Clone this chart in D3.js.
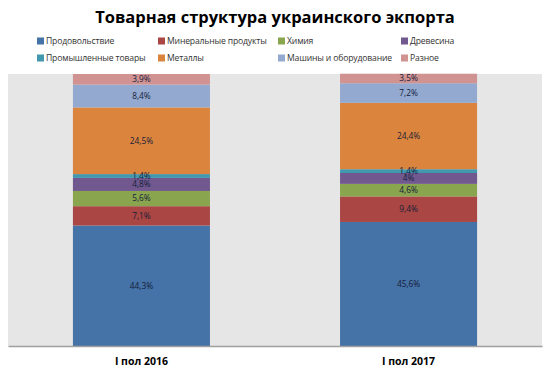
<!DOCTYPE html>
<html>
<head>
<meta charset="utf-8">
<script src="https://cdn.jsdelivr.net/npm/d3@7"></script>
<style>
  body { margin: 0; background: #fff; }
  svg { display: block; font-family: "Open Sans", "Noto Sans", sans-serif; }
</style>
</head>
<body>
<svg id="chart" width="550" height="370"></svg>
<script>
const periods = ["I пол 2016", "I пол 2017"];
const groups = [
  "Продовольствие", "Минеральные продукты", "Химия", "Древесина",
  "Промышленные товары", "Металлы", "Машины и оборудование", "Разное"
];
const share2016 = [44.3, 7.1, 5.6, 4.8, 1.4, 24.5, 8.4, 3.9];
const share2017 = [45.6, 9.4, 4.6, 4, 1.4, 24.4, 7.2, 3.5];
const labels2016 = ["44,3%", "7,1%", "5,6%", "4,8%", "1,4%", "24,5%", "8,4%", "3,9%"];
const labels2017 = ["45,6%", "9,4%", "4,6%", "4%", "1,4%", "24,4%", "7,2%", "3,5%"];
const colors = ["#4572a7", "#aa4643", "#89a54e", "#71588f", "#4198af", "#db843d", "#93a9cf", "#d19392"];

const svg = d3.select("#chart");
const plot = { left: 8, right: 542, top: 74, bottom: 346 };

const rows = periods.map((p, i) => {
  const row = { period: p };
  const vals = i === 0 ? share2016 : share2017;
  groups.forEach((g, j) => { row[g] = vals[j]; });
  return row;
});
const labelText = [labels2016, labels2017];

const series = d3.stack().keys(groups)(rows);

const x = d3.scaleBand()
  .domain(periods)
  .range([plot.left, plot.right])
  .paddingInner(0.487)
  .paddingOuter(0.243);

const y = d3.scaleLinear()
  .domain([0, 100])
  .range([plot.bottom, plot.top]);

const color = d3.scaleOrdinal().domain(groups).range(colors);

// title
svg.append("text")
  .attr("x", 275)
  .attr("y", 23)
  .attr("text-anchor", "middle")
  .attr("font-size", 16.5)
  .attr("font-weight", 700)
  .attr("fill", "#000")
  .text("Товарная структура украинского экпорта");

// legend, 4 columns x 2 rows
const legendX = [37, 158, 278, 401];
const legendY = [41, 58];
const legend = svg.append("g").attr("class", "legend");
groups.forEach((g, i) => {
  const lx = legendX[i % 4];
  const ly = legendY[Math.floor(i / 4)];
  legend.append("rect")
    .attr("x", lx)
    .attr("y", ly - 3.5)
    .attr("width", 7)
    .attr("height", 7)
    .attr("fill", color(g));
  legend.append("text")
    .attr("x", lx + 9)
    .attr("y", ly)
    .attr("dy", "0.35em")
    .attr("font-size", 8.6)
    .attr("letter-spacing", -0.15)
    .attr("fill", "#333")
    .text(g);
});

// plot background
svg.append("rect")
  .attr("x", plot.left)
  .attr("y", plot.top)
  .attr("width", plot.right - plot.left)
  .attr("height", plot.bottom - plot.top)
  .attr("fill", "#e6e6e6");

const layers = svg.append("g")
  .selectAll("g")
  .data(series)
  .join("g")
  .attr("fill", d => color(d.key));

layers.selectAll("rect")
  .data(d => d)
  .join("rect")
  .attr("x", d => x(d.data.period))
  .attr("y", d => y(d[1]))
  .attr("width", x.bandwidth())
  .attr("height", d => y(d[0]) - y(d[1]));

// data labels
const labelLayer = svg.append("g");
series.forEach((s, j) => {
  s.forEach((d, i) => {
    labelLayer.append("text")
      .attr("x", x(d.data.period) + x.bandwidth() / 2)
      .attr("y", (y(d[0]) + y(d[1])) / 2)
      .attr("dy", "0.35em")
      .attr("text-anchor", "middle")
      .attr("font-size", 8.3)
      .attr("fill", "#14203a")
      .text(labelText[i][j]);
  });
});

// x axis
const xAxis = svg.append("g")
  .attr("transform", `translate(0, ${plot.bottom})`)
  .call(d3.axisBottom(x).tickSize(0).tickPadding(12));
xAxis.select(".domain").attr("stroke", "#a0a0a0").attr("stroke-width", 1.5);
xAxis.selectAll("text")
  .attr("font-size", 10.5)
  .attr("font-weight", 700)
  .attr("fill", "#000")
  .attr("font-family", "'Open Sans', sans-serif");
</script>
</body>
</html>
